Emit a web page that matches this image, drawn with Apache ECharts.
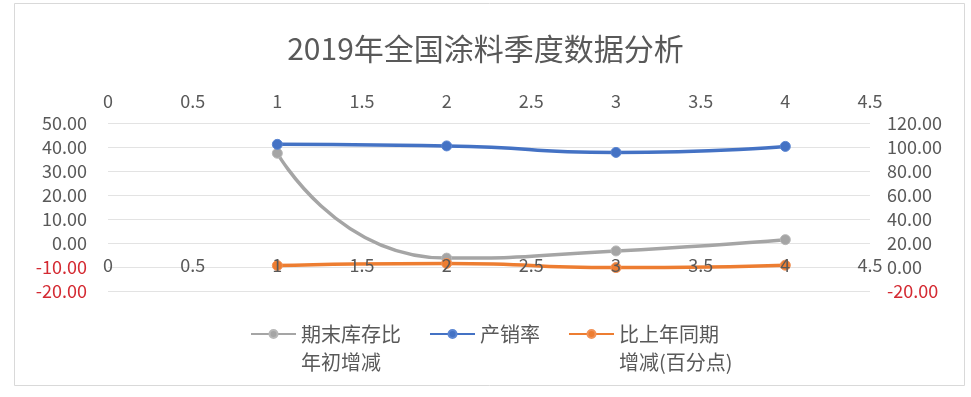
<!DOCTYPE html>
<html><head><meta charset="utf-8">
<script src="https://cdn.jsdelivr.net/npm/echarts@6/dist/echarts.min.js"></script>
<style>html,body{margin:0;padding:0;background:#fff}#c{width:971px;height:397px}</style>
</head><body><div id="c"></div>
<script>
const quarters = [1, 2, 3, 4];
const inventoryChange = [37.4, -6.3, -3.3, 1.4];
const salesRate = [102.2, 100.9, 95.5, 100.5];
const yoyChange = [1.2, 3.0, -0.5, 1.5];
const seriesNames = ['期末库存比年初增减', '产销率', '比上年同期增减(百分点)'];
const legendLabels = [' \n期末库存比\n年初增减', ' \n产销率\n ', ' \n比上年同期\n增减(百分点)'];
const titleText = '2019年全国涂料季度数据分析';
const xTicks = { min: 0, max: 4.5, interval: 0.5 };
const leftTicks = { min: -20, max: 50, interval: 10 };
const rightTicks = { min: -20, max: 120, interval: 20 };

const FONT = "'Noto Sans CJK SC', 'Noto Sans', sans-serif";
const TXT = '#595959';
const RED = '#D42A32';
const GRIDC = '#E3E3E3';
const colors = ['#A5A5A5', '#4472C4', '#ED7D31'];
const borders = ['#B8B8B8', '#5B86D3', '#F29358'];
const valColor = v => (v < 0 ? RED : TXT);

function pts(vals) { return quarters.map((q, i) => [q, vals[i]]); }
function mkSeries(i, vals, xi, yi) {
  return {
    name: seriesNames[i], type: 'line', xAxisIndex: xi, yAxisIndex: yi,
    data: pts(vals), smooth: 0.6, symbol: 'circle', symbolSize: 10, showSymbol: true,
    lineStyle: { color: colors[i], width: 3.5 },
    itemStyle: { color: colors[i], borderColor: borders[i], borderWidth: 1 },
    emphasis: { disabled: true }
  };
}

const chart = echarts.init(document.getElementById('c'), null, { renderer: 'canvas' });
chart.setOption({
  animation: false,
  backgroundColor: '#fff',
  textStyle: { fontFamily: FONT },
  title: {
    text: titleText, left: 'center', top: 32, padding: 0,
    textStyle: { fontFamily: FONT, fontSize: 30, fontWeight: 'normal', color: TXT, lineHeight: 34 }
  },
  graphic: [{
    type: 'rect', silent: true, z: -10,
    shape: { x: 14.5, y: 3.5, width: 950, height: 382 },
    style: { fill: 'none', stroke: '#D9D9D9', lineWidth: 1 }
  }],
  legend: {
    left: 250, top: 292, padding: 0, itemWidth: 45, itemHeight: 10, itemGap: 28,
    data: seriesNames,
    formatter: name => legendLabels[seriesNames.indexOf(name)],
    textStyle: { fontFamily: FONT, fontSize: 20, color: TXT, lineHeight: 28 }
  },
  grid: { left: 108, right: 101, top: 123, bottom: 106, outerBoundsMode: 'none', containLabel: false },
  xAxis: [
    {
      type: 'value', position: 'top', min: xTicks.min, max: xTicks.max, interval: xTicks.interval,
      axisLine: { show: false, onZero: false }, axisTick: { show: false }, splitLine: { show: false },
      axisLabel: { margin: 13, fontSize: 18, color: TXT, fontFamily: FONT, showMinLabel: true, showMaxLabel: true }
    },
    {
      type: 'value', position: 'bottom', offset: -24, z: 5, min: xTicks.min, max: xTicks.max, interval: xTicks.interval,
      axisLine: { show: false, onZero: false }, axisTick: { show: false }, splitLine: { show: false },
      axisLabel: { margin: -11, fontSize: 18, color: TXT, fontFamily: FONT, showMinLabel: true, showMaxLabel: true }
    }
  ],
  yAxis: [
    {
      type: 'value', position: 'left', min: leftTicks.min, max: leftTicks.max, interval: leftTicks.interval,
      axisLine: { show: false, onZero: false }, axisTick: { show: false },
      splitLine: { show: true, lineStyle: { color: GRIDC, width: 1 } },
      axisLabel: { margin: 21, fontSize: 18, fontFamily: FONT, formatter: v => v.toFixed(2), color: valColor }
    },
    {
      type: 'value', position: 'right', min: rightTicks.min, max: rightTicks.max, interval: rightTicks.interval,
      axisLine: { show: false, onZero: false }, axisTick: { show: false }, splitLine: { show: false },
      axisLabel: { margin: 17, fontSize: 18, fontFamily: FONT, formatter: v => v.toFixed(2), color: valColor }
    }
  ],
  series: [
    mkSeries(0, inventoryChange, 0, 0),
    mkSeries(1, salesRate, 1, 1),
    mkSeries(2, yoyChange, 1, 1)
  ]
});
</script></body></html>
